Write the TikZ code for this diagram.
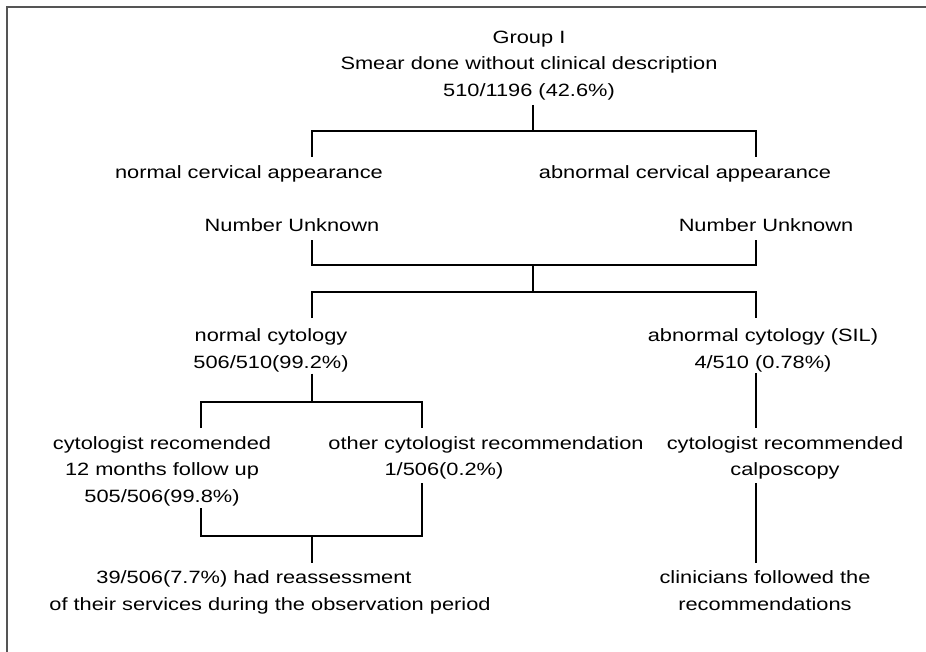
\documentclass[tikz,border=0pt]{standalone}
\usepackage{fontspec}
\setmainfont{Liberation Sans}[FakeStretch=1.225]
\newcommand{\tst}{\rule{0pt}{14bp}}
\newcommand{\bst}{\rule[-4bp]{0pt}{4bp}}
\begin{document}
\begin{tikzpicture}[x=1bp,y=-1bp,
  lbl/.style={font=\fontsize{17.8bp}{26.7bp}\selectfont, align=center, inner sep=0pt, outer sep=0pt},
  ln/.style={draw=black, line width=1.4bp},
  thk/.style={draw=black, line width=2.4bp},
  frame/.style={draw={rgb,255:red,85;green,85;blue,85}, line width=1.3bp}]
\useasboundingbox (0,0) rectangle (926,652);
\fill[white] (0,0) rectangle (926,652);
\draw[frame] (7,652) -- (7,7) -- (926,7);

% text nodes
\node[lbl] (top) at (529,64.85) {\tst Group I\\Smear done without clinical description\\510/1196 (42.6\%)\bst};
\node[lbl] (nca) at (249,173.35) {\tst normal cervical appearance\bst};
\node[lbl] (aca) at (685,173.35) {\tst abnormal cervical appearance\bst};
\node[lbl] (nul) at (292,226.35) {\tst Number Unknown\bst};
\node[lbl] (nur) at (766,226.35) {\tst Number Unknown\bst};
\node[lbl] (nc) at (271,349.85) {\tst normal cytology\\506/510(99.2\%)\bst};
\node[lbl] (ac) at (763,349.85) {\tst abnormal cytology (SIL)\\4/510 (0.78\%)\bst};
\node[lbl] (cr) at (162,470.85) {\tst cytologist recomended\\12 months follow up\\505/506(99.8\%)\bst};
\node[lbl] (oc) at (486,457.35) {\tst other cytologist recommendation\\1/506(0.2\%)\hspace*{84bp}\bst};
\node[lbl] (crc) at (785,457.35) {\tst cytologist recommended\\calposcopy\bst};
\node[lbl] (re) at (270,591.85) {\tst 39/506(7.7\%) had reassessment\hspace*{32bp}\\of their services during the observation period\bst};
\node[lbl] (cl) at (765,591.85) {\tst clinicians followed the\\recommendations\bst};

% junction coordinates
\coordinate (c0) at (533,131);
\coordinate (c1l) at (312,131);
\coordinate (c1r) at (756,131);
\coordinate (c2l) at (312,265);
\coordinate (c2r) at (756,265);
\coordinate (c2m) at (533,265);
\coordinate (c3m) at (533,292);
\coordinate (c3l) at (312,292);
\coordinate (c3r) at (756,292);
\coordinate (c4m) at (312,402);
\coordinate (c4l) at (201,402);
\coordinate (c4r) at (422,402);
\coordinate (c5l) at (201,536);
\coordinate (c5r) at (422,536);
\coordinate (c5m) at (312,536);

% connectors
\draw[ln, shorten <=4.45bp] (top.south -| c0) -- (c0);
\draw[ln, shorten <=7.35bp, shorten >=7.35bp] (nca.north -| c1l) -- (c1l) -- (c1r) -- (aca.north -| c1r);
\draw[ln, shorten <=4.65bp, shorten >=4.65bp] (nul.south -| c2l) -- (c2l) -- (c2r) -- (nur.south -| c2r);
\draw[ln] (c2m) -- (c3m);
\draw[ln, shorten <=9.5bp, shorten >=9.5bp] (nc.north -| c3l) -- (c3l) -- (c3r) -- (ac.north -| c3r);
\draw[thk] ([xshift=26bp]c3l) -- ([xshift=-13bp]c3r);
\draw[ln, shorten <=1.3bp] (nc.south -| c4m) -- (c4m);
\draw[ln, shorten <=7.15bp, shorten >=7bp] (cr.north -| c4l) -- (c4l) -- (c4r) -- (oc.north -| c4r);
\draw[thk] ([xshift=-57bp]c4r) -- (c4r);
\draw[ln, shorten <=1bp, shorten >=7bp] (ac.south -| c3r) -- (crc.north -| c3r);
\draw[ln, shorten <=1.5bp, shorten >=2.8bp] (cr.south -| c5l) -- (c5l) -- (c5r) -- (oc.south -| c5r);
\draw[thk, shorten >=2.8bp] (c5r) -- (oc.south -| c5r);
\draw[ln, shorten >=6.5bp] (c5m) -- (re.north -| c5m);
\draw[ln, shorten <=3.3bp, shorten >=6.5bp] (crc.south -| c3r) -- (cl.north -| c3r);
\end{tikzpicture}
\end{document}
